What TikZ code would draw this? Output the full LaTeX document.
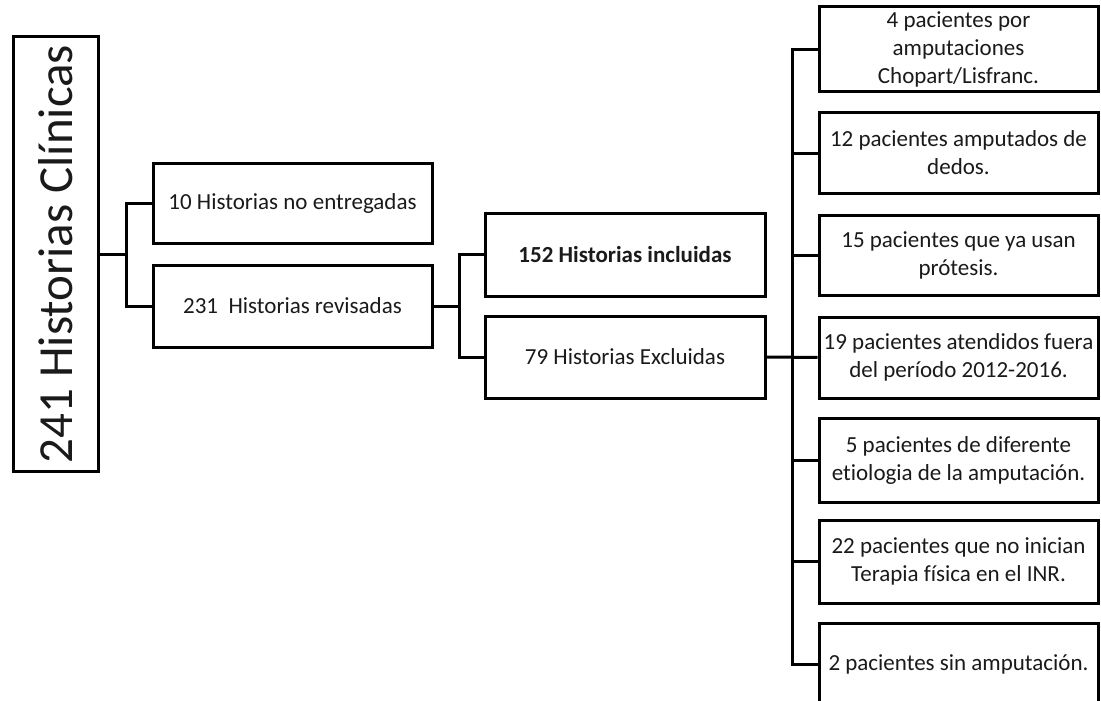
\documentclass[tikz,border=0pt]{standalone}
\usepackage{fontspec}
\usepackage{graphicx}
\setmainfont[Ligatures={NoCommon}]{Carlito}
\definecolor{txt}{HTML}{1A1A1A}
\tikzset{
  box/.style={draw=black, line width=3pt, rectangle, inner sep=2pt, align=center, text=txt, font=\fontsize{23}{28}\selectfont},
  rbox/.style={box, minimum width=279pt},
  conn/.style={draw=black, line width=3pt}
}
\begin{document}
\begin{tikzpicture}[x=1pt,y=-1pt]
\useasboundingbox (0,0) rectangle (1101,701);
\clip (0,0) rectangle (1101,701);
\fill[white] (0,0) rectangle (1101,701);

\node[box, minimum width=85pt, minimum height=434pt] (big) at (55.5,254)
  {\rotatebox{90}{\fontsize{49}{56}\selectfont 241 Historias Clínicas}};

\node[box, minimum width=279pt, minimum height=80pt] (n10) at (292.5,203) {10 Historias no entregadas};
\node[box, minimum width=279pt, minimum height=82pt] (n231) at (292.5,306) {231\ \ Historias revisadas};

\node[box, minimum width=280pt, minimum height=83pt] (n152) at (625,254.5) {\textbf{152 Historias incluidas}};
\node[box, minimum width=280pt, minimum height=82pt] (n79) at (625,357) {79 Historias Excluidas};

\node[rbox, minimum height=85pt] (r1) at (958.5,49.5) {4 pacientes por\\amputaciones\\Chopart/Lisfranc.};
\node[rbox, minimum height=81pt] (r2) at (958.5,153) {12 pacientes amputados de\\dedos.};
\node[rbox, minimum height=80pt] (r3) at (958.5,255) {15 pacientes que ya usan\\prótesis.};
\node[rbox, minimum height=81pt] (r4) at (958.5,357.5) {19 pacientes atendidos fuera\\del período 2012-2016.};
\node[rbox, minimum height=84pt] (r5) at (958.5,460) {5 pacientes de diferente\\etiologia de la amputación.};
\node[rbox, minimum height=83pt] (r6) at (958.5,561.5) {22 pacientes que no inician\\Terapia física en el INR.};
\node[rbox, minimum height=82pt] (r7) at (958.5,664) {2 pacientes sin amputación.};

% level 1
\draw[conn] (big.east) -- ++(27,0) coordinate (j1);
\draw[conn] (n10.west) -| (j1) |- (n231.west);
% level 2
\draw[conn] (n231.east) -- ++(26,0) coordinate (j2);
\draw[conn] (n152.west) -| (j2) |- (n79.west);
% level 3
\coordinate (j3) at (792,357);
\draw[conn] (n79.east) -- (r4.west);
\draw[conn] (r1.west) -| (j3);
\draw[conn] (r7.west) -| (j3);
\foreach \r in {r2,r3,r5,r6} { \draw[conn] (\r.west) -- (\r.west -| j3); }
\end{tikzpicture}
\end{document}
